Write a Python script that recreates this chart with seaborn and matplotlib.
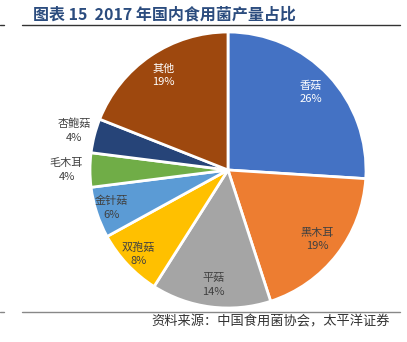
import numpy as np
import matplotlib
matplotlib.use("Agg")
import matplotlib.pyplot as plt
import seaborn as sns
from matplotlib.lines import Line2D

sns.set_theme(style="white")
plt.rcParams['font.family'] = ['Noto Sans CJK SC', 'DejaVu Sans']

categories = ["香菇", "黑木耳", "平菇", "双孢菇", "金针菇", "毛木耳", "杏鲍菇", "其他"]
values = [26, 19, 14, 8, 6, 4, 4, 19]
pct_labels = ["26%", "19%", "14%", "8%", "6%", "4%", "4%", "19%"]
colors = ["#4472C4", "#ED7D31", "#A5A5A5", "#FFC000", "#5B9BD5", "#70AD47", "#264478", "#9E480E"]
label_colors = ["white", "#404040", "#404040", "#404040", "#404040", "#404040", "#404040", "white"]
label_dist = [0.82, 0.82, 0.84, 0.89, 0.89, 1.17, 1.15, 0.83]

W, H = 407, 342
fig = plt.figure(figsize=(W / 100, H / 100), dpi=100)
fig.patch.set_facecolor("white")

cx, cy, r = 228, 170, 138
ax = fig.add_axes([(cx - r) / W, (H - cy - r) / H, 2 * r / W, 2 * r / H])
wedges, _ = ax.pie(values, colors=colors, startangle=90, counterclock=False,
                   wedgeprops=dict(edgecolor="white", linewidth=2))
ax.set_xlim(-1, 1)
ax.set_ylim(-1, 1)
ax.set_aspect("equal")
ax.axis("off")

for w, name, pct, col, d in zip(wedges, categories, pct_labels, label_colors, label_dist):
    ang = np.deg2rad((w.theta1 + w.theta2) / 2)
    x, y = d * np.cos(ang), d * np.sin(ang)
    ax.text(x, y, f"{name}\n{pct}", ha="center", va="center", fontsize=8,
            color=col, linespacing=1.45, clip_on=False)

# title
fig.text(33 / W, 1 - 14 / H, "图表 15  2017 年国内食用菌产量占比", fontsize=11.5, fontweight="bold",
         color="#2B4C7E", ha="left", va="center")
# rules
for yy, col in [(25, "#333333"), (312, "#888888")]:
    fig.add_artist(Line2D([22 / W, 400 / W], [1 - yy / H, 1 - yy / H], color=col, lw=1))
    fig.add_artist(Line2D([0, 4 / W], [1 - yy / H, 1 - yy / H], color=col, lw=1))

fig.text(390 / W, 1 - 322 / H, "资料来源：中国食用菌协会，太平洋证券", fontsize=9.5,
         color="#333333", ha="right", va="center", style="italic")

fig.savefig("out.png", dpi=100, facecolor="white")
